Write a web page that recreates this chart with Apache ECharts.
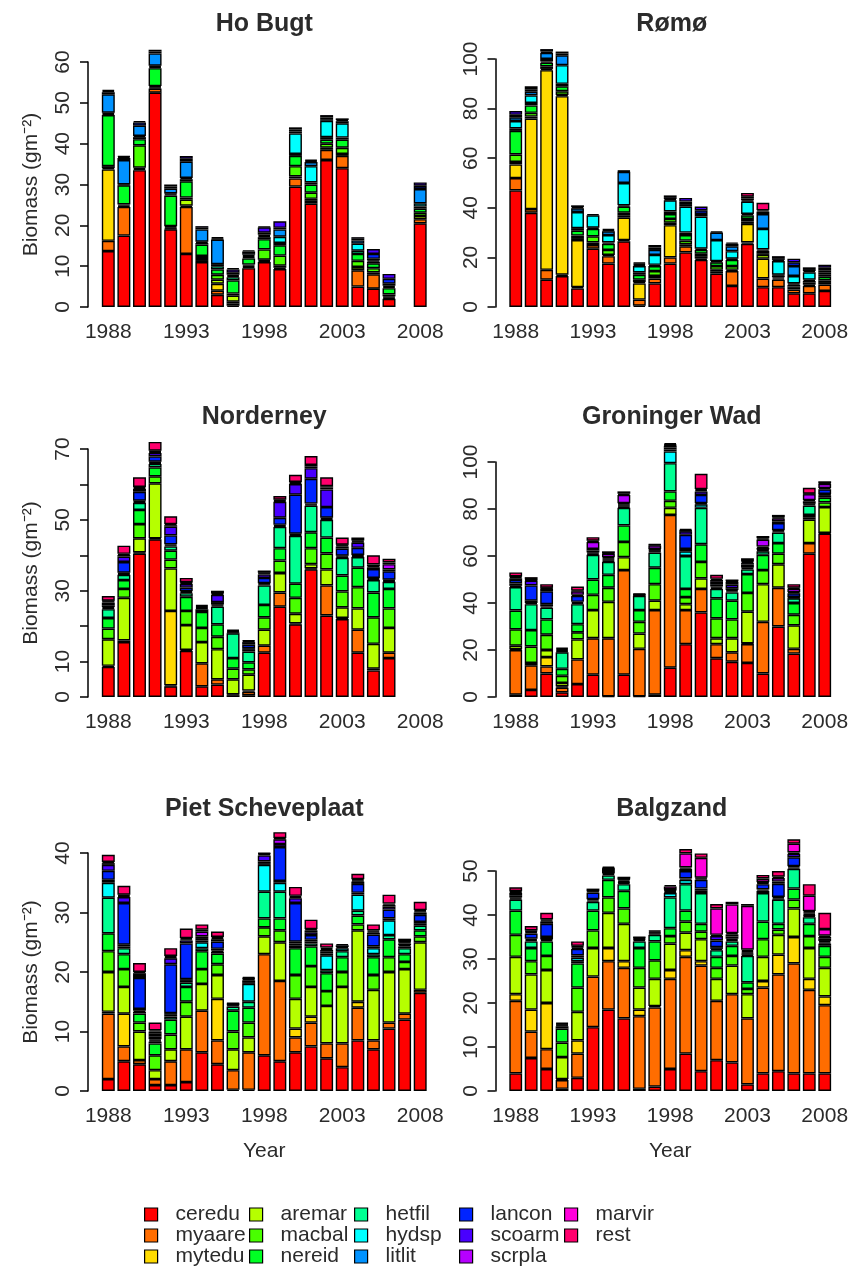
<!DOCTYPE html>
<html><head><meta charset="utf-8">
<script src="https://cdn.jsdelivr.net/npm/echarts@6/dist/echarts.min.js"></script>
<style>html,body{margin:0;padding:0;background:#fff}#c{width:851px;height:1280px}</style>
</head><body><div id="c"></div>
<script>
const years = [1988,1989,1990,1991,1992,1993,1994,1995,1996,1997,1998,1999,2000,2001,2002,2003,2004,2005,2006,2007,2008];
const species = ['ceredu','myaare','mytedu','aremar','macbal','nereid','hetfil','hydsp','litlit','lancon','scoarm','scrpla','marvir','rest'];
const speciesColors = ['#FF0000','#FF6D00','#FFDB00','#B6FF00','#49FF00','#00FF24','#00FF92','#00FFFF','#0092FF','#0024FF','#4900FF','#B600FF','#FF00DB','#FF006D'];
const siteNames = ['Ho Bugt','Rømø','Norderney','Groninger Wad','Piet Scheveplaat','Balgzand'];

// one row per year (1988..2008), values in species order; null = no sampling
const hoBugt = [
 [13.7,2.5,17.5,0.3,0.5,12.5,0.3,0.3,4.5,0.5,0.3,0,0,0.3],
 [17.5,7,0,0.3,0.3,4.7,0.2,0,6,0.5,0.3,0,0,0.2],
 [33.5,0.3,0,0.3,5.5,1.5,0.5,0.3,2.5,0.8,0.3,0,0,0],
 [52.5,1,0,0.3,0.3,4.4,0.3,0.3,3,0.5,0.4,0,0,0],
 [19,0.2,0,0.3,0.3,7.5,0.3,0.2,1.2,0.5,0.5,0,0,0],
 [13,11.5,0.3,1.5,0.5,4,0.5,0.3,4,0.7,0.7,0,0,0],
 [11,0.5,0,0.5,0.5,2.8,0.4,0.3,3,0.4,0.4,0,0,0],
 [3,1,1.7,1,1.2,1.3,0.8,0.5,6,0.3,0.3,0,0,0],
 [0.3,0.6,0.4,1.5,0.5,3.2,0.8,0.3,0.3,0.5,0.8,0,0,0.3],
 [9.5,0.3,0,0.3,0.3,1.5,0.3,0.3,0.3,0.4,0.4,0,0,0.3],
 [11,0.3,0,0.3,2.5,2.5,0.5,0.3,0.3,0.5,1.3,0,0,0.2],
 [9.3,0.3,0,0.5,2.5,2.5,0.6,1.5,1.8,0.4,1.6,0,0,0],
 [29.5,2,0,0.5,2.5,2.5,0.5,5,0.5,0.5,0.5,0,0,0],
 [25.3,0.7,0,0.5,1.5,2,0.5,4,1,0.3,0.3,0,0,0],
 [36,2.5,0,0.5,1,1,0.6,4,0.4,0.4,0.6,0,0,0],
 [34,3,0,0.5,1.5,2,0.5,3.5,0.5,0.3,0.4,0,0,0],
 [5,4,0,0.8,1.5,1.7,0.8,1.7,0.8,0.4,0.4,0,0,0],
 [4.5,3.5,0,0.5,1,1.2,0.4,0.3,0.4,1.2,1.2,0,0,0],
 [2,0.3,0,0.3,0.5,1.5,0.3,0.3,0.5,1.2,1.2,0,0,0],
 null,
 [20.5,1,0,0.8,0.8,1,0.5,0.8,3.5,0.8,0.8,0,0,0]
];
const romo = [
 [47,5,5.5,1,3,9.5,1,3,1.5,1,1.5,0,0,0],
 [38,1.5,36.5,0.8,1.5,3,1,3,1.5,1,1.2,0,0,0],
 [11,4,80.5,0.5,1,1.5,0.5,1,2.5,0.5,1,0,0,0],
 [12.5,0.5,72,0.5,1.5,2,1,7.5,4,0.7,0.8,0,0,0],
 [7.5,0.5,19,0.8,1,2,1,6.5,1.5,0.5,0.7,0,0,0],
 [23.5,1.5,0,1,2.5,3,0.5,5,0.5,0,0,0,0,0],
 [17.5,3,0,0.5,2,2.5,0.5,3,1.5,0.5,0.5,0,0,0],
 [26.5,0.5,9,1,1,2.5,0.5,9,4.5,0.3,0.2,0,0,0],
 [0.5,2.5,6.5,0.5,1,2,1,2.5,0.5,0.5,0.5,0,0,0],
 [9.5,2,0,1,2,2,0.5,4,2,1,1,0,0,0],
 [17.5,2.5,13,1,1.5,2,1,4.5,0.5,0.8,0.7,0,0,0],
 [22,2.5,0,0.8,1.5,2.2,1,10.5,1,1,1.5,0,0,0],
 [19,0.5,0,1,1,1.5,0.5,13,1,1.5,1.5,0,0,0],
 [13.5,0.7,0,0.8,1.5,1.5,0.5,8.5,3,0.5,0,0,0,0],
 [8.5,6,0,0.5,1.5,2.5,0.5,3,2,1,0.5,0,0,0],
 [25.5,0.5,7.5,1,1,1.5,0.5,5,0.5,0.7,0.8,0,0,1.5],
 [8,3.5,8,1.5,0.7,1,0.5,8.3,6,1,0.5,0,0,3],
 [8,3,0,0.5,0.5,0.7,0.3,5.5,0.5,0.7,0.8,0,0,0],
 [5.5,1.5,0,0.7,0.6,0.7,0.5,3,4,1.5,1.5,0,0,0],
 [5.5,3,0,0.5,0.8,0.7,0.5,3,0.5,0.8,0.7,0,0,0],
 [6.5,2.5,0,0.7,1,1.5,1,0.8,0.8,1,1.2,0,0,0]
];
const norderney = [
 [8.5,0.3,0,7.5,3,3,2.5,0.3,0.3,0.5,0.8,0.3,0.2,1.3],
 [15.5,0.5,0,12,2.5,2.5,1.5,0.3,0.3,3,1.5,0.5,0.3,2.3],
 [40.5,0.3,0,4,4,4,2,0.3,0.3,2.5,0.8,0.3,0.3,2.7],
 [44.5,0.3,0,15.5,2,2.5,1,0.3,0.3,1.5,1,0.3,0.3,2.5],
 [3,0.3,21,12,2.5,2.5,1.2,0.3,0.3,2.5,2.5,0.4,0.3,2.2],
 [13,0.3,0,7,4,4,1,0.3,0.3,1,1,0.3,0.2,1.2],
 [3,6.5,0,6,4,4.5,0.8,0.3,0.3,0.3,0.3,0,0,0],
 [3.5,1.5,0,8.5,3.5,3.5,5,0.3,0.3,0.7,2,0.3,0.2,0.7],
 [0.5,0.2,0,4.3,3,3,7,0.2,0.2,0.3,0.3,0,0,0],
 [0.5,1,0.3,4.5,1.5,2,3,0.5,0.5,1,0.7,0.3,0,0.2],
 [12.5,2,0,4.5,3.5,3.5,5.5,0.3,0.3,1.5,1,0.3,0.2,0.6],
 [25.5,4,0,5.5,3.5,3.5,6,0.3,0.3,2,4.5,0.3,0.3,1],
 [20.5,0.3,0,2.7,4.5,4,13.5,0.3,0.3,11,3,0.3,0.3,2],
 [36,0.3,0,1.2,4.5,4.5,7.5,0.3,0.3,7,3,0.5,0.4,2.5],
 [23,8.5,0,4.5,4.5,4.5,5,0.3,0.3,3,5,0.5,0.4,2.5],
 [22,0.3,0,3,4.5,4.5,5,0.3,0.3,2,0.6,0.3,0.2,2],
 [12.5,6.5,0,6,6,5.5,3,0.3,0.3,2,1.5,0.3,0.3,0.8],
 [7.5,0.5,0,7,7.5,7,3.5,0.3,0.3,2.5,0.5,0.3,0.5,2.6],
 [11,1.5,0,7,5.5,5.5,2,0.3,0.3,2.4,0.5,1.5,0.5,1],
 null,
 null
];
const groningerWad = [
 [1,19,0.3,1.5,7,8,10,0.5,1,1.5,0.7,0.5,0.3,1.7],
 [3,10.5,0,1,7,7,11,0.5,1,6.5,2,0.3,0.2,1],
 [10,3,4,3,6.5,6.5,5,0.5,1,5.5,1,0.3,0.2,1.5],
 [2,2,0.5,1.5,3,3,7,0.5,0.5,0.5,0.5,0,0,0],
 [5.5,10.5,0,8.5,3,3.5,8.5,0.5,0.5,2.5,0.5,1.5,0.3,1.7],
 [9.5,15.5,0,12,6.5,6.5,10.5,0.5,0.5,0.8,0.7,3,0.5,1.5],
 [0.3,24.7,0,15.5,6,5.5,5.5,0.5,0.5,0.5,0.5,1.5,0.2,0.8],
 [9.5,44.5,0,5.5,6.5,7,7.5,0.5,0.5,0.5,0.5,3.5,0.5,1],
 [0.3,20.2,0,6.5,5,5,6,0.3,0.2,0.2,0.3,0,0,0],
 [1,36,0,4,7,7,6.5,0.5,0.3,0.4,0.3,1.5,0.3,0.2],
 [12.5,65,0,3,3,4,12,5,0.8,0.8,0.8,0.3,0.3,0.5],
 [22.5,14.5,0,2.5,3,3.5,14,2,1,6,1.5,0.3,0.2,0.5],
 [36,10,0,4.5,7,7.5,15.5,1.5,0.5,3.5,1.5,0.5,0.5,6.5],
 [16.5,6,0,2.5,8.5,8.5,4,0.5,0.5,1,1,0.8,0.5,1.7],
 [15,4,0,6,8,8,3.5,0.5,0.5,0.8,1.5,1.2,0.3,0.7],
 [14.5,8,0.3,13.5,8,8,2,0.5,0.3,1.2,0.7,0.5,0.3,1.2],
 [10,22,0,16,6,6.5,1.5,0.5,0.3,0.7,0.5,3,0.5,1],
 [30,16.5,0,10,4.5,4.5,4.5,0.5,0.5,3,0.7,1.3,0.4,1.1],
 [18.5,2,0,10,4.5,5,2,0.3,0.3,1.5,0.5,1.5,0.4,1.5],
 [61,4.5,0,10,1,1,4,0.5,0.3,1,0.5,2.5,0.2,2.5],
 [69.5,0.3,0,11,2,2,1,0.3,0.3,2,0.5,1.8,0.3,0.8]
];
const pietScheveplaat = [
 [2,11,0.3,6.7,3.5,3,6,2.5,0.5,1.5,1,0.3,0.2,1.2],
 [5,2.5,5.5,4.5,3,2.5,1,0.3,0.3,7,1,0.2,0.2,1.5],
 [4.5,0.7,0,4.8,1.5,1.5,0.3,0.2,0.3,5.2,0.5,0.3,0.2,1.5],
 [1,1,0,1.5,2.5,2,0.3,0.2,0.2,0.5,0.5,0.3,0.2,1.3],
 [1,4,0,2,2.5,2.5,0.5,0.3,0.3,8.2,1,0.2,0.2,1.3],
 [1.5,5.5,0,5.5,2.5,2.5,0.7,0.3,0.3,6,0.5,0.2,0.2,1.6],
 [6.5,7,0,4.5,2.5,3,0.5,1,0.3,0.4,0.3,0.8,0.3,0.9],
 [4.5,4,7,4,1.8,1.8,0.3,0.2,0.3,1.2,0.4,0.2,0.2,0.9],
 [0.2,3.3,0,3.5,3,3.5,0.7,0.2,0.1,0.1,0.1,0,0,0.1],
 [0.2,6.3,0,2.5,2.5,2.5,1,3,0.3,0.3,0.2,0.1,0.1,0.2],
 [6,17,0,3,1.5,1.5,4.5,4.5,0.3,0.3,1,0.2,0.1,0.1],
 [5,13.5,0,6.5,2,2,4.5,1.5,0.3,5.7,0.5,0.8,0.2,1],
 [6.5,2.5,1.5,5,4,4.5,0.5,0.3,0.3,6.5,0.8,0.2,0.2,1.5],
 [7.5,4,1,5,3.5,3.3,0.5,0.3,0.3,0.8,0.5,0.3,0.2,1.6],
 [5.5,2.5,0,6.3,2.5,3,0.5,2.5,0.3,0.3,0.3,0.2,0.2,0.7],
 [4,4,0,9.5,2.5,2.5,1,0.5,0.2,0.3,0.2,0,0,0],
 [8.5,5.5,1,12,1,1.5,0.8,2.7,0.3,1.5,0.4,0.2,0.2,0.9],
 [7,1.5,0,8.5,2.5,3,0.5,1,0.3,2,0.3,0.2,0.2,1],
 [10.5,1,0,8.5,2.5,3,0.7,2.5,0.3,1.5,0.5,0.3,0.2,1.5],
 [12,1,0,7.5,1.2,1.3,1,0.3,0.2,0.3,0.2,0.1,0.1,0.4],
 [16.5,0.5,0,8,1,1,0.8,0.3,0.3,1.2,0.4,0.2,0.2,1.4]
];
const balgzand = [
 [4,16.5,1.5,8.5,5,5.5,2.5,0.3,0.2,0.5,0.5,0.2,0.2,0.9],
 [7.5,6,5,8,3,3,1.5,0.3,0.3,1.2,0.3,0.2,0.2,1],
 [5,4.5,10.5,7.5,3.2,3.3,0.3,0.2,0.5,3,0.5,0.2,0.3,1.5],
 [0.5,2,0.2,5,3.3,3.2,0.5,0.2,0.2,0.2,0.2,0,0,0],
 [3,5.5,3,6.5,5.5,5.5,0.5,0.8,0.5,1.5,0.3,0.2,0.2,1],
 [14.5,11.5,0,6.5,4,4.5,2,0.3,0.3,1.5,0.3,0.1,0.1,0.4],
 [18.5,11,3,8,3.5,4,1,0.3,0.2,0.5,0.5,0.1,0.1,0.3],
 [16.5,11.5,1.5,8.5,3.5,4,1.5,0.3,0.2,0.3,0.3,0.1,0.1,0.4],
 [0.5,16.5,1.5,5,4.5,4.5,1.5,0.3,0.2,0.2,0.2,0,0,0.1],
 [1,18,0.3,6.2,4.2,4.3,1.5,0.3,0.2,0.3,0.2,0,0,0],
 [5,20.5,2,6,1.7,1.8,7,1,0.2,0.3,0.2,0.1,0.7,0.3],
 [8.5,22,1.5,4,2.5,2.5,6,1,0.3,1.7,0.5,0.3,3.2,1],
 [4.5,24,1,5,1.7,1.8,7,0.5,0.5,2,0.3,0.2,4.5,1],
 [7,13.5,0,5,2.5,2.5,1.5,0.3,0.4,1.5,1,0.3,6,1],
 [6.5,15.5,0,6.5,2.2,2.3,1,0.3,0.3,0.5,0.5,0.3,6.5,0.6],
 [1.5,15,0,5.5,1.2,1.5,6,0.3,0.2,0.3,0.3,0.3,10,0.4],
 [4,19.5,1.5,5.5,4,4,6.5,0.5,0.3,1.2,0.3,0.2,0.8,0.8],
 [4.5,22,4.5,4.5,1.2,1.3,5.5,0.3,0.3,3,0.5,0.8,0.3,1.3],
 [4,25,6,6.5,2,2.5,4.5,0.3,0.3,2,0.8,0.3,2,1],
 [4,19,2.5,7,2.7,2.8,1.5,0.3,0.2,0.3,0.3,0.3,3.5,2.6],
 [4,15.5,2,6.5,2.5,2.5,0.5,0.3,0.3,0.5,0.4,0.3,1.5,3.7]
];
const yTickMax = [60,100,70,100,40,50];
const yTickStep = [10,20,10,20,10,10];
const yTickHidden = [[],[],[20,40,60],[],[],[]];

const siteRows = [hoBugt, romo, norderney, groningerWad, pietScheveplaat, balgzand];

// layout (pixels)
const colLeft = [100.5, 508];
const bandWidth = 327.5;
const zeroY = [307, 307, 697, 697, 1091, 1091];
const topTickY = [62, 59, 449, 462, 853, 871];
const titleTop = [12, 12, 405, 405, 797, 797];

const FONT = '"Liberation Sans", Arial, sans-serif';
const TXT = '#2b2b2b';

const grids = [], xAxes = [], yAxes = [], series = [], titles = [];
for (let p = 0; p < 6; p++) {
  const col = p % 2, row = Math.floor(p / 2);
  grids.push({left: colLeft[col], width: bandWidth, top: topTickY[p], height: zeroY[p] - topTickY[p], containLabel: false});
  xAxes.push({
    type: 'category', gridIndex: p, data: years.map(String),
    axisLine: {show: false}, axisTick: {show: false},
    axisLabel: {interval: 4, fontSize: 21, fontFamily: FONT, color: TXT, margin: 15},
    name: row === 2 ? 'Year' : '', nameLocation: 'middle', nameGap: 50,
    nameTextStyle: {fontSize: 21, fontFamily: FONT, color: TXT}
  });
  const hidden = yTickHidden[p];
  yAxes.push({
    type: 'value', gridIndex: p, min: 0, max: yTickMax[p], interval: yTickStep[p],
    offset: 12.5,
    axisLine: {show: true, lineStyle: {color: '#000', width: 1.5}},
    axisTick: {show: true, length: 8, lineStyle: {color: '#000', width: 1.5}},
    splitLine: {show: false},
    axisLabel: {rotate: 90, fontSize: 21, fontFamily: FONT, color: TXT, margin: 14,
      formatter: v => hidden.indexOf(v) >= 0 ? '' : String(v)},
    name: col === 0 ? 'Biomass (gm\u207B\u00B2)' : '', nameLocation: 'middle', nameRotate: 90, nameGap: 46,
    nameTextStyle: {fontSize: 21, fontFamily: FONT, color: TXT}
  });
  titles.push({
    text: siteNames[p], left: colLeft[col] + bandWidth / 2, top: titleTop[p], textAlign: 'center', padding: 0,
    textStyle: {fontSize: 25, fontWeight: 'bold', fontFamily: FONT, color: TXT}
  });
  const rows = siteRows[p];
  species.forEach((sp, s) => {
    series.push({
      type: 'bar', name: sp, xAxisIndex: p, yAxisIndex: p, stack: 'site' + p,
      data: rows.map(r => (r && r[s] > 0) ? r[s] : null),
      barCategoryGap: '17%', clip: false, silent: true,
      itemStyle: {color: speciesColors[s], borderColor: '#000', borderWidth: 1.4},
      emphasis: {disabled: true}
    });
  });
}

const legendCols = [[0,1,2],[3,4,5],[6,7,8],[9,10,11],[12,13]];
const legendLeft = [144, 249, 354, 459, 564];
const legends = legendCols.map((idx, i) => ({
  data: idx.map(k => species[k]), orient: 'vertical', left: legendLeft[i], top: 1204,
  itemWidth: 13, itemHeight: 13, itemGap: 0, icon: 'rect', selectedMode: false, padding: 0,
  itemStyle: {borderColor: '#000', borderWidth: 1.2},
  textStyle: {fontSize: 21, lineHeight: 19, fontFamily: FONT, color: TXT, padding: [0, 0, 0, 13]}
}));

const chart = echarts.init(document.getElementById('c'), null, {renderer: 'canvas'});
chart.setOption({
  animation: false, backgroundColor: '#fff',
  title: titles, grid: grids, xAxis: xAxes, yAxis: yAxes, series: series, legend: legends,
  tooltip: {show: false}
});
</script></body></html>
